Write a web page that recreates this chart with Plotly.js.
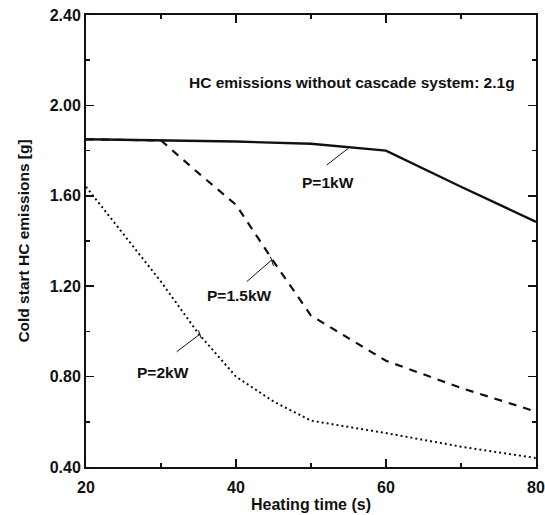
<!DOCTYPE html>
<html>
<head>
<meta charset="utf-8">
<script src="https://cdn.plot.ly/plotly-3.0.1.min.js"></script>
<style>html,body{margin:0;padding:0;background:#fff;}#chart{width:545px;height:515px;}</style>
</head>
<body>
<div id="chart"></div>
<script>
// Heating time (s)
const time1kW = [20, 30, 40, 50, 60, 70, 80];
const hc1kW = [1.85, 1.845, 1.84, 1.83, 1.80, 1.64, 1.485];

const time15kW = [20, 30, 35, 40, 45, 50, 60, 70, 80];
const hc15kW = [1.85, 1.845, 1.70, 1.56, 1.31, 1.07, 0.87, 0.75, 0.645];

const time2kW = [20, 25, 30, 35, 40, 45, 50, 60, 70, 80];
const hc2kW = [1.64, 1.43, 1.22, 0.99, 0.80, 0.69, 0.605, 0.55, 0.49, 0.44];

const seriesNames = ["P=1kW", "P=1.5kW", "P=2kW"];
const noteText = "HC emissions without cascade system: 2.1g";
const xTitle = "Heating time (s)";
const yTitle = "Cold start HC emissions [g]";

const FONT = "Liberation Sans, Arial, sans-serif";
const INK = "#111";
const F = (s) => ({family: FONT, size: s, color: INK, weight: "bold"});

const traces = [
  {x: time1kW, y: hc1kW, name: seriesNames[0], mode: "lines", line: {color: INK, width: 2.4, dash: "solid"}},
  {x: time15kW, y: hc15kW, name: seriesNames[1], mode: "lines", line: {color: INK, width: 2.2, dash: "8px,7px"}},
  {x: time2kW, y: hc2kW, name: seriesNames[2], mode: "lines", line: {color: INK, width: 2, dash: "2px,3px"}}
];

const leader = (x0, y0, x1, y1) => ({type: "line", xref: "x", yref: "y", x0: x0, y0: y0, x1: x1, y1: y1, line: {color: INK, width: 1}});

const layout = {
  width: 545, height: 515,
  margin: {l: 86, r: 9, t: 15, b: 48},
  paper_bgcolor: "#fff", plot_bgcolor: "#fff",
  showlegend: false,
  font: F(16),
  xaxis: {
    range: [20, 80], dtick: 20, tick0: 20,
    ticks: "inside", ticklen: 8, tickwidth: 1.5, tickcolor: INK,
    minor: {dtick: 10, ticks: "inside", ticklen: 4, tickwidth: 1.5, tickcolor: INK, showgrid: false},
    showline: true, linewidth: 2, linecolor: INK, mirror: "allticks",
    showgrid: false, zeroline: false,
    ticklabelstandoff: 5,
    tickfont: F(16),
    title: {text: xTitle, font: F(16), standoff: 4}
  },
  yaxis: {
    range: [0.40, 2.40], dtick: 0.4, tick0: 0.4, tickformat: ".2f",
    ticks: "inside", ticklen: 8, tickwidth: 1.5, tickcolor: INK,
    minor: {dtick: 0.2, ticks: "inside", ticklen: 4, tickwidth: 1.5, tickcolor: INK, showgrid: false},
    showline: true, linewidth: 2, linecolor: INK, mirror: "allticks",
    showgrid: false, zeroline: false,
    tickfont: F(16),
    title: {text: yTitle, font: F(15.5), standoff: 16}
  },
  annotations: [
    {text: noteText, x: 55.5, y: 2.10, xref: "x", yref: "y", showarrow: false, font: F(15.5)},
    {text: seriesNames[0], x: 52.27, y: 1.661, xref: "x", yref: "y", showarrow: false, font: F(15.5)},
    {text: seriesNames[1], x: 40.4, y: 1.157, xref: "x", yref: "y", showarrow: false, font: F(15.5)},
    {text: seriesNames[2], x: 30.3, y: 0.82, xref: "x", yref: "y", showarrow: false, font: F(15.5)}
  ],
  shapes: [
    leader(52.09, 1.736, 54.97, 1.810),
    leader(41.43, 1.220, 44.76, 1.316),
    leader(44.6, 1.33, 45.0, 1.29),
    leader(32.09, 0.910, 35.2, 0.988),
    leader(35.0, 1.005, 35.35, 0.97)
  ]
};

Plotly.newPlot("chart", traces, layout, {staticPlot: true, displayModeBar: false});
</script>
</body>
</html>
